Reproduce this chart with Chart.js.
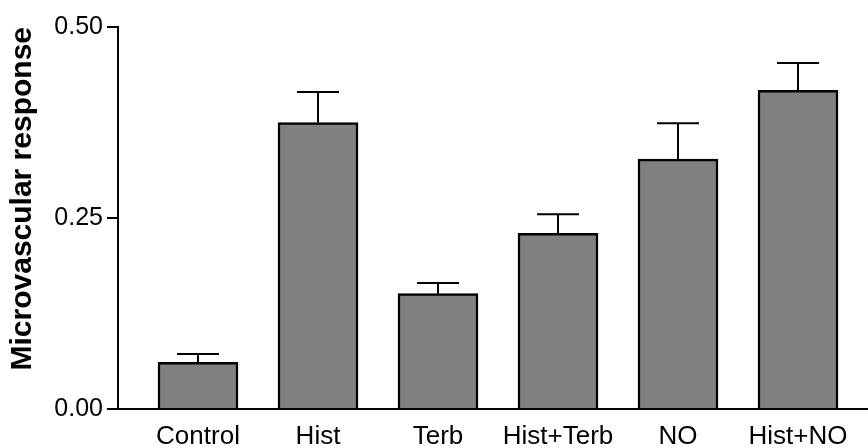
<!DOCTYPE html>
<html>
<head>
<meta charset="utf-8">
<script src="https://cdn.jsdelivr.net/npm/chart.js@4"></script>
<style>
    html, body { margin: 0; padding: 0; background: #fff; }
    canvas { display: block; }
</style>
</head>
<body>
<canvas id="responseChart" width="868" height="448"></canvas>
<script>
const groups = ['Control', 'Hist', 'Terb', 'Hist+Terb', 'NO', 'Hist+NO'];
const means = [0.061, 0.375, 0.151, 0.230, 0.327, 0.417];
const errors = [0.011, 0.040, 0.014, 0.025, 0.047, 0.036];
const yTicks = [0, 0.25, 0.5];

Chart.defaults.font.family = "'Liberation Sans', Arial, sans-serif";
Chart.defaults.color = '#000';

// upward-only SEM bars with caps
const errorBars = {
    id: 'errorBars',
    afterDatasetsDraw(chart) {
        const {ctx, scales: {x, y}} = chart;
        ctx.save();
        ctx.strokeStyle = '#000';
        ctx.lineWidth = 2;
        means.forEach((m, i) => {
            const px = x.getPixelForValue(i);
            const base = y.getPixelForValue(m);
            const top = y.getPixelForValue(m + errors[i]);
            ctx.beginPath();
            ctx.moveTo(px, base);
            ctx.lineTo(px, top);
            ctx.moveTo(px - 21, top);
            ctx.lineTo(px + 21, top);
            ctx.stroke();
        });
        ctx.restore();
    }
};

new Chart(document.getElementById('responseChart'), {
    type: 'bar',
    data: {
        datasets: [{
            data: means.map((v, i) => ({x: i, y: v})),
            backgroundColor: '#808080',
            borderColor: '#000',
            borderWidth: 2.5,
            barThickness: 80
        }]
    },
    options: {
        responsive: false,
        animation: false,
        layout: {padding: {top: 27, right: 0, left: 0, bottom: 0}},
        plugins: {legend: {display: false}, tooltip: {enabled: false}},
        scales: {
            x: {
                type: 'linear',
                offset: false,
                min: -0.5 - 20 / 120,
                max: 5.5 + 10 / 120,
                afterBuildTicks: scale => {
                    scale.ticks = groups.map((g, i) => ({value: i}));
                },
                afterFit: scale => { scale.height = 39; },
                grid: {display: false, drawTicks: false},
                border: {color: '#000', width: 2},
                ticks: {
                    padding: 12,
                    maxRotation: 0,
                    autoSkip: false,
                    font: {size: 26},
                    callback: v => groups[v]
                }
            },
            y: {
                min: 0,
                max: 0.5,
                afterBuildTicks: scale => {
                    scale.ticks = yTicks.map(v => ({value: v}));
                },
                afterFit: scale => { scale.width = 118; },
                grid: {drawOnChartArea: false, tickLength: 11, color: '#000', lineWidth: 2},
                border: {color: '#000', width: 2},
                ticks: {
                    padding: 4,
                    font: {size: 25},
                    callback: v => v.toFixed(2)
                },
                title: {
                    display: true,
                    text: 'Microvascular response',
                    align: 'end',
                    padding: {top: 5, bottom: 0},
                    font: {size: 30, weight: 'bold'}
                }
            }
        }
    },
    plugins: [errorBars]
});
</script>
</body>
</html>
